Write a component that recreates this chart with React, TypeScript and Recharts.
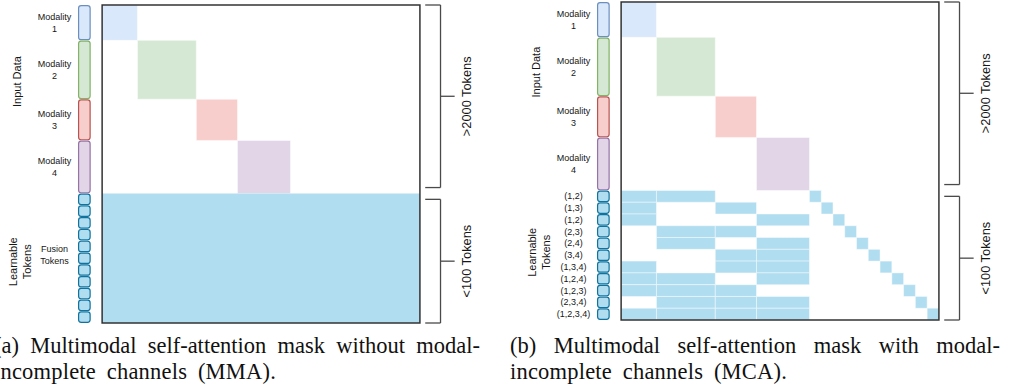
import React from "react";
import { ComposedChart, XAxis, YAxis, ReferenceArea, ReferenceLine } from "recharts";

// ---------- data ----------
const modalityLabels = ["Modality 1", "Modality 2", "Modality 3", "Modality 4"];
const modalitySizes = [3, 5, 3.5, 4.5]; // relative token-span of each modality
const fusionTokenCount = 11;
const fusionLabel = "Fusion Tokens";
const mcaTokenLabels = ["(1,2)", "(1,3)", "(1,2)", "(2,3)", "(2,4)", "(3,4)", "(1,3,4)", "(1,2,4)", "(1,2,3)", "(2,3,4)", "(1,2,3,4)"];
const mcaTokenModalities = [[1, 2], [1, 3], [1, 4], [2, 3], [2, 4], [3, 4], [1, 3, 4], [1, 2, 4], [1, 2, 3], [2, 3, 4], [1, 2, 3, 4]];
const groupLabelLines = [["Input Data"], ["Learnable", "Tokens"]];
const bracketLabels = [">2000 Tokens", "<100 Tokens"];
const captionA = ["(a) Multimodal self-attention mask without modal-", "incomplete channels (MMA)."];
const captionB = ["(b) Multimodal self-attention mask with modal-", "incomplete channels (MCA)."];

// ---------- styles ----------
const MOD_FILL = ["#dae8fc", "#d5e8d4", "#f8cecc", "#e1d5e7"];
const MOD_STROKE = ["#6c8ebf", "#82b366", "#b85450", "#9673a6"];
const TOKEN_FILL = "#b1ddf0";
const TOKEN_STROKE = "#10739e";
const FONT = '"Liberation Sans", Arial, Helvetica, sans-serif';
const SERIF = '"Liberation Serif", "Times New Roman", serif';
const TEXT = "#161616";

type Spec = { value: number; kind: "row" | "group"; lines: string[] };

type PanelProps = {
  mode: "MMA" | "MCA";
  left: number;
  top: number;
  inputY: number;
  learnY: number;
  fusionY: number;
};

function Panel({ mode, left, top, inputY, learnY, fusionY }: PanelProps) {
  const starts: number[] = [];
  let acc = 0;
  modalitySizes.forEach((s) => {
    starts.push(acc);
    acc += s;
  });
  const modalTotal = acc;
  const N = modalTotal + fusionTokenCount;
  const ends = starts.map((s, i) => s + modalitySizes[i]);

  // left axis tick specs
  const specs: Spec[] = [];
  modalityLabels.forEach((lab, i) => {
    const parts = lab.split(" ");
    specs.push({ value: (starts[i] + ends[i]) / 2, kind: "row", lines: parts });
  });
  if (mode === "MCA") {
    mcaTokenLabels.forEach((lab, i) => specs.push({ value: modalTotal + i + 0.5, kind: "row", lines: [lab] }));
  } else {
    specs.push({ value: fusionY, kind: "row", lines: fusionLabel.split(" ") });
  }
  specs.push({ value: inputY, kind: "group", lines: groupLabelLines[0] });
  specs.push({ value: learnY, kind: "group", lines: groupLabelLines[1] });

  const bracketRanges = [
    [0, modalTotal - 0.5],
    [modalTotal + 0.5, N],
  ];
  const rightTicks = bracketRanges.map((r) => (r[0] + r[1]) / 2);

  const leftTick = (props: any) => {
    const { x, y, payload } = props;
    const s = specs.find((q) => Math.abs(q.value - payload.value) < 1e-6);
    if (!s) return <g />;
    if (s.kind === "row") {
      const n = s.lines.length;
      return (
        <g>
          {s.lines.map((l, i) => (
            <text key={i} x={x - 23.5} y={y + (i - (n - 1) / 2) * 12} textAnchor="middle" dominantBaseline="central" fontSize={9} fontFamily={FONT} fill={TEXT}>
              {l}
            </text>
          ))}
        </g>
      );
    }
    const offs = s.lines.length === 1 ? [61] : [64.5, 50.5];
    return (
      <g>
        {s.lines.map((l, i) => {
          const cx = x - offs[i];
          return (
            <text key={i} x={cx} y={y} transform={`rotate(-90, ${cx}, ${y})`} textAnchor="middle" dominantBaseline="central" fontSize={11} fontFamily={FONT} fill={TEXT}>
              {l}
            </text>
          );
        })}
      </g>
    );
  };

  const rightTick = (props: any) => {
    const { x, y, payload } = props;
    const idx = rightTicks.findIndex((v) => Math.abs(v - payload.value) < 1e-6);
    if (idx < 0) return <g />;
    return (
      <text x={x} y={y} transform={`rotate(-90, ${x}, ${y})`} textAnchor="middle" dominantBaseline="central" fontSize={12.8} fontFamily={FONT} fill={TEXT}>
        {bracketLabels[idx]}
      </text>
    );
  };

  const rounded = (fill: string, stroke: string) => (p: any) => (
    <rect x={p.x} y={p.y} width={p.width} height={p.height} rx={2.5} ry={2.5} fill={fill} stroke={stroke} strokeWidth={1.2} />
  );

  const areas: React.ReactNode[] = [];
  // modality diagonal blocks
  modalitySizes.forEach((_, m) => {
    areas.push(
      <ReferenceArea key={`mod-${m}`} yAxisId="l" x1={starts[m]} x2={ends[m]} y1={starts[m]} y2={ends[m]} fill={MOD_FILL[m]} fillOpacity={1} stroke="#ffffff" strokeOpacity={0.6} strokeWidth={0.8} />
    );
  });
  if (mode === "MMA") {
    areas.push(
      <ReferenceArea key="fusion" yAxisId="l" x1={0} x2={N} y1={modalTotal} y2={N} fill={TOKEN_FILL} fillOpacity={1} stroke="none" />
    );
  } else {
    mcaTokenModalities.forEach((mods, i) => {
      mods.forEach((mm) => {
        const m = mm - 1;
        areas.push(
          <ReferenceArea key={`c-${i}-${m}`} yAxisId="l" x1={starts[m]} x2={ends[m]} y1={modalTotal + i} y2={modalTotal + i + 1} fill={TOKEN_FILL} fillOpacity={1} stroke="#ffffff" strokeOpacity={0.55} strokeWidth={0.8} />
        );
      });
      areas.push(
        <ReferenceArea key={`d-${i}`} yAxisId="l" x1={modalTotal + i} x2={modalTotal + i + 1} y1={modalTotal + i} y2={modalTotal + i + 1} fill={TOKEN_FILL} fillOpacity={1} stroke="#ffffff" strokeOpacity={0.55} strokeWidth={0.8} />
      );
    });
  }
  // side bars
  modalitySizes.forEach((_, m) => {
    areas.push(
      <ReferenceArea key={`bar-${m}`} yAxisId="l" x1={-2.0} x2={-1.02} y1={starts[m] + 0.06} y2={ends[m] - 0.06} shape={rounded(MOD_FILL[m], MOD_STROKE[m])} />
    );
  });
  for (let i = 0; i < fusionTokenCount; i++) {
    areas.push(
      <ReferenceArea key={`tok-${i}`} yAxisId="l" x1={-2.0} x2={-1.02} y1={modalTotal + i + 0.06} y2={modalTotal + i + 0.94} shape={rounded(TOKEN_FILL, TOKEN_STROKE)} />
    );
  }
  // matrix border
  areas.push(
    <ReferenceArea key="border" yAxisId="l" x1={0} x2={N} y1={0} y2={N} fill="none" fillOpacity={0} stroke="#333333" strokeWidth={1.5} />
  );

  const lines: React.ReactNode[] = [];
  const bx0 = N + 0.45;
  const bx1 = N + 1.75;
  const bx2 = N + 2.95;
  bracketRanges.forEach((r, k) => {
    const mid = (r[0] + r[1]) / 2;
    const segs = [
      [{ x: bx0, y: r[0] }, { x: bx1, y: r[0] }],
      [{ x: bx1, y: r[0] }, { x: bx1, y: r[1] }],
      [{ x: bx0, y: r[1] }, { x: bx1, y: r[1] }],
      [{ x: bx1, y: mid }, { x: bx2, y: mid }],
    ];
    segs.forEach((sg, j) => {
      lines.push(<ReferenceLine key={`b-${k}-${j}`} yAxisId="l" segment={sg} stroke="#4a4a4a" strokeWidth={1.3} ifOverflow="visible" />);
    });
  });

  const chartRows = [{ x: 0 }, { x: N }];

  return (
    <div style={{ position: "absolute", left, top, width: 511, height: 330 }}>
      <ComposedChart width={511} height={330} data={chartRows} margin={{ top: 2, right: 5, bottom: 10, left: 0 }}>
        <XAxis type="number" dataKey="x" domain={[-2.05, N + 4]} hide allowDataOverflow />
        <YAxis yAxisId="l" type="number" domain={[0, N]} reversed width={97} ticks={specs.map((s) => s.value)} interval={0} tick={leftTick} axisLine={false} tickLine={false} tickSize={0} tickMargin={0} allowDataOverflow />
        <YAxis yAxisId="r" orientation="right" type="number" domain={[0, N]} reversed width={20} ticks={rightTicks} interval={0} tick={rightTick} axisLine={false} tickLine={false} tickSize={0} tickMargin={0} allowDataOverflow />
        {areas}
        {lines}
      </ComposedChart>
    </div>
  );
}

function Caption({ lines, left, width }: { lines: string[]; left: number; width: number }) {
  return (
    <div style={{ position: "absolute", left, top: 333, width, fontFamily: SERIF, fontSize: 22.5, lineHeight: "25.5px", color: "#111" }}>
      <div style={{ textAlign: "justify", textAlignLast: "justify" as any, whiteSpace: "nowrap" }}>{lines[0]}</div>
      <div style={{ whiteSpace: "nowrap", wordSpacing: 5, letterSpacing: 0.2 }}>{lines[1]}</div>
    </div>
  );
}

export default function App() {
  return (
    <div style={{ position: "absolute", left: 0, top: 0, width: 1011, height: 391, overflow: "hidden", background: "#ffffff" }}>
      <Panel mode="MMA" left={-19} top={3} inputY={6.5} learnY={21.8} fusionY={21.2} />
      <Panel mode="MCA" left={500} top={0} inputY={5.95} learnY={21.25} fusionY={21.2} />
      <Caption lines={captionA} left={-6} width={486} />
      <Caption lines={captionB} left={510} width={490} />
    </div>
  );
}
